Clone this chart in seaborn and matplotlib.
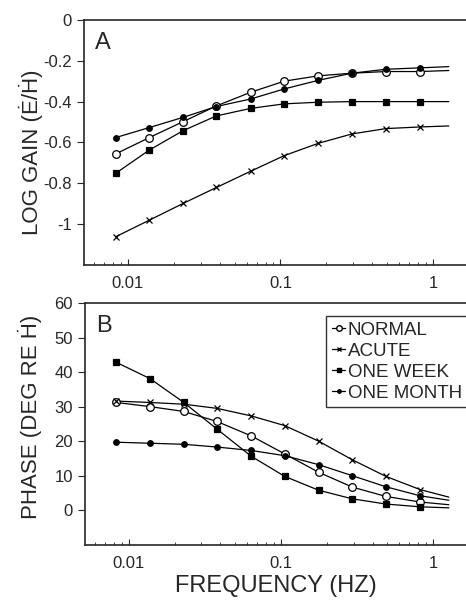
import pandas as pd
import matplotlib
matplotlib.use("Agg")
import matplotlib.pyplot as plt
import seaborn as sns
from matplotlib.lines import Line2D

sns.set_style("ticks")
plt.rcParams['font.family'] = ['Liberation Sans', 'DejaVu Sans']

# -----------------------------
# data
# -----------------------------
freq = [0.0083, 0.0138, 0.023, 0.038, 0.064, 0.106, 0.177, 0.295, 0.49, 0.82]
end_freq = 1.27   # where the fitted curves stop (no marker)

series = ["NORMAL", "ACUTE", "ONE WEEK", "ONE MONTH"]

gain_normal = [-0.656, -0.576, -0.498, -0.421, -0.354, -0.300, -0.274, -0.261, -0.253, -0.253]
gain_acute = [-1.061, -0.980, -0.898, -0.820, -0.740, -0.664, -0.604, -0.558, -0.532, -0.524]
gain_week = [-0.751, -0.637, -0.542, -0.470, -0.433, -0.411, -0.403, -0.400, -0.400, -0.400]
gain_month = [-0.576, -0.527, -0.477, -0.424, -0.387, -0.338, -0.296, -0.261, -0.242, -0.235]
gain_end = [-0.248, -0.519, -0.400, -0.229]

phase_normal = [31.2, 30.0, 28.6, 25.7, 21.5, 16.3, 11.0, 6.7, 4.0, 2.4]
phase_acute = [31.6, 31.2, 30.7, 29.5, 27.3, 24.5, 20.0, 14.6, 9.8, 6.0]
phase_week = [42.8, 38.1, 31.2, 23.5, 15.6, 9.8, 5.8, 3.3, 1.8, 1.0]
phase_month = [19.7, 19.4, 19.1, 18.3, 17.3, 15.8, 13.2, 10.0, 6.8, 4.2]
phase_end = [1.6, 3.8, 0.7, 2.9]

markers = {"NORMAL": "o", "ACUTE": "x", "ONE WEEK": "s", "ONE MONTH": "o"}
mfaces = {"NORMAL": "white", "ACUTE": "black", "ONE WEEK": "black", "ONE MONTH": "black"}
msizes = {"NORMAL": 5.5, "ACUTE": 5, "ONE WEEK": 5, "ONE MONTH": 4}


def build(vals, ends):
    rows = []
    for name, v, e in zip(series, vals, ends):
        for f, y in zip(freq, v):
            rows.append((name, f, y, True))
        rows.append((name, end_freq, e, False))
    return pd.DataFrame(rows, columns=["series", "freq", "value", "marked"])


gain_df = build([gain_normal, gain_acute, gain_week, gain_month], gain_end)
phase_df = build([phase_normal, phase_acute, phase_week, phase_month], phase_end)

fig = plt.figure(figsize=(4.66, 6.0), dpi=100)
axA = fig.add_axes([0.180, 0.558, 0.822, 0.409])
axB = fig.add_axes([0.182, 0.092, 0.820, 0.403])

black = {s: "black" for s in series}


def draw(ax, df):
    sns.lineplot(data=df, x="freq", y="value", hue="series", palette=black,
                 estimator=None, sort=True, lw=0.9, legend=False, ax=ax)
    for name in series:
        sub = df[(df["series"] == name) & df["marked"]]
        ax.plot(sub["freq"], sub["value"], ls="none", marker=markers[name],
                ms=msizes[name], mfc=mfaces[name], mec="black", mew=0.9, zorder=3)
    ax.set_xscale("log")
    ax.set_xlim(0.00514, 1.67)
    ax.set_xticks([0.01, 0.1, 1])
    ax.set_xticklabels(["0.01", "0.1", "1"])
    ax.tick_params(axis="x", which="both", direction="in", labelsize=12, pad=8)
    ax.tick_params(axis="x", which="major", length=4)
    ax.tick_params(axis="x", which="minor", length=2)
    ax.tick_params(axis="y", direction="out", length=5, labelsize=12)
    for sp in ax.spines.values():
        sp.set_linewidth(1.2)
        sp.set_visible(True)
    ax.set_xlabel("")


# -----------------------------
# A  log gain
# -----------------------------
draw(axA, gain_df)
axA.set_ylim(-1.2, 0)
axA.set_yticks([0, -0.2, -0.4, -0.6, -0.8, -1])
axA.set_yticklabels(["0", "-0.2", "-0.4", "-0.6", "-0.8", "-1"])
axA.set_ylabel("LOG GAIN (\u0116/\u1E22)", fontsize=16)
axA.yaxis.set_label_coords(-0.108, 0.46)
axA.text(0.03, 0.95, "A", transform=axA.transAxes, fontsize=17, va="top")

# -----------------------------
# B  phase
# -----------------------------
draw(axB, phase_df)
axB.set_ylim(-10, 60)
axB.set_yticks([0, 10, 20, 30, 40, 50, 60])
axB.set_ylabel("PHASE (DEG RE \u1E22)", fontsize=16)
axB.yaxis.set_label_coords(-0.112, 0.53)
axB.set_xlabel("FREQUENCY (HZ)", fontsize=17, labelpad=3)
axB.text(0.03, 0.95, "B", transform=axB.transAxes, fontsize=17, va="top")

handles = [Line2D([], [], color="black", lw=0.9, marker=markers[s], ms=msizes[s] - 1.5,
                  mfc=mfaces[s], mec="black") for s in series]
leg = axB.legend(handles, series, loc="upper right", bbox_to_anchor=(1.002, 0.945),
                 fontsize=13.5, handlelength=0.7, handletextpad=0.15, borderpad=0.3,
                 borderaxespad=0.0, labelspacing=0.2, frameon=True, fancybox=False,
                 edgecolor="black")
leg.get_frame().set_linewidth(1.0)

fig.savefig("out.png", dpi=100)
